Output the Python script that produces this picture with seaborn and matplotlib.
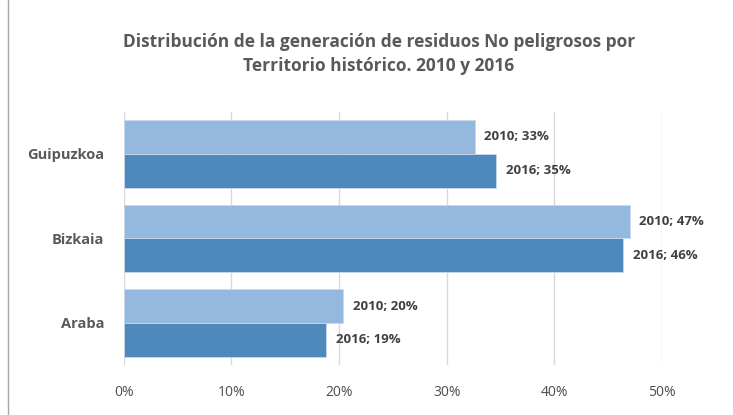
import matplotlib
matplotlib.use("Agg")
import matplotlib.pyplot as plt
import seaborn as sns
import pandas as pd
from matplotlib.ticker import PercentFormatter
from matplotlib.lines import Line2D

# data
territorios = ["Guipuzkoa", "Bizkaia", "Araba"]
valores_2010 = [32.6, 47.0, 20.4]
valores_2016 = [34.6, 46.4, 18.8]
anios = ["2010", "2016"]
colores = ["#95B8DF", "#4F88BB"]

df = pd.DataFrame({
    "Territorio": territorios * 2,
    "Anio": ["2010"] * 3 + ["2016"] * 3,
    "Valor": valores_2010 + valores_2016,
})

sns.set_theme(style="white")
plt.rcParams["font.family"] = ["Open Sans", "DejaVu Sans"]

fig = plt.figure(figsize=(7.33, 4.15), dpi=100)
ax = fig.add_axes([0.169, 0.12, 0.734, 0.611])

sns.barplot(data=df, y="Territorio", x="Valor", hue="Anio", order=territorios,
            hue_order=anios, palette=colores, orient="h", width=0.8, saturation=1,
            edgecolor="#c9d9ee", linewidth=0.6, ax=ax, legend=False, zorder=2)

for cont, anio in zip(ax.containers, anios):
    labs = [f"{anio}; {b.get_width():.0f}%" for b in cont]
    ax.bar_label(cont, labels=labs, padding=7, fontsize=9.5, fontweight="bold",
                 color="#404040")

ax.set_xlim(0, 50)
ax.set_ylim(2.5, -0.5)
ax.xaxis.set_major_formatter(PercentFormatter(decimals=0))
ax.set_xticks(range(0, 51, 10))
ax.grid(axis="x", color="#d9d9d9", linewidth=1, zorder=0)
ax.set_axisbelow(True)
for s in ax.spines.values():
    s.set_visible(False)
ax.tick_params(axis="x", length=0, pad=14, labelsize=10, labelcolor="#4d4d4d")
ax.tick_params(axis="y", length=0, pad=14, labelsize=10.5, labelcolor="#595959")
for t in ax.get_yticklabels():
    t.set_fontweight("bold")
ax.set_xlabel("")
ax.set_ylabel("")

fig.text(0.517, 0.87, "Distribución de la generación de residuos No peligrosos por\nTerritorio histórico. 2010 y 2016",
         ha="center", va="center", fontsize=12.5, fontweight="bold",
         color="#595959", linespacing=1.45)

fig.add_artist(Line2D([0.011, 0.011], [0, 1], transform=fig.transFigure,
                      color="#a6a6a6", linewidth=1))

fig.savefig("out.png", dpi=100)
